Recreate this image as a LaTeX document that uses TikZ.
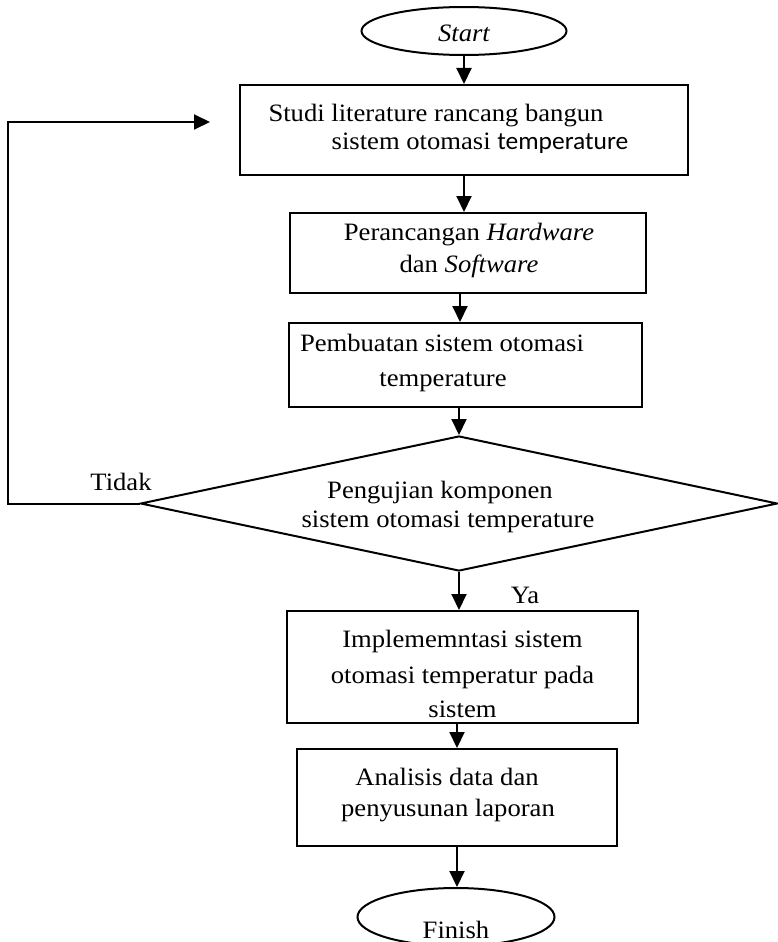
\documentclass[tikz,border=0pt]{standalone}
\usepackage{fontspec}
\setmainfont{Liberation Serif}[FakeStretch=1.065]
\newfontfamily\calfont{Carlito}[FakeStretch=1.02]
\usetikzlibrary{arrows.meta,shapes.geometric}
\begin{document}
\begin{tikzpicture}[x=1pt,y=-1pt,
  txt/.style={font=\fontsize{25}{30}\selectfont,inner sep=0pt,anchor=base},
  box/.style={draw,line width=2pt,rectangle,inner sep=0pt},
  term/.style={draw,line width=2pt,ellipse,inner sep=0pt},
  dec/.style={draw,line width=2pt,diamond,inner sep=0pt},
  arr/.style={line width=2pt,-{Triangle[length=16pt,width=15pt]}}]
\path[use as bounding box,fill=white] (0,0) rectangle (778,942);
\clip (0,0) rectangle (778,942);
% shapes
\node[term,minimum width=205pt,minimum height=48pt] (start) at (464,31) {};
\node[box,minimum width=448pt,minimum height=90pt] (studi) at (464,130) {};
\node[box,minimum width=356pt,minimum height=80pt] (per) at (468,253) {};
\node[box,minimum width=353pt,minimum height=84pt] (pem) at (465.5,365) {};
\node[dec,minimum width=637pt,minimum height=135pt] (uji) at (459,503.5) {};
\node[box,minimum width=351pt,minimum height=112pt] (impl) at (462.5,667) {};
\node[box,minimum width=320pt,minimum height=97pt] (ana) at (457,797.5) {};
\node[term,minimum width=197pt,minimum height=58pt] (fin) at (456,917) {};
% texts
\node[txt] (tstart) at (464,42) {\itshape Start};
\node[txt] (tstudiA) at (436,121) {Studi literature rancang bangun};
\node[txt] (tstudiB) at (480,149) {sistem otomasi {\calfont temperature}};
\node[txt] (tperA) at (469,240) {Perancangan \textit{Hardware}};
\node[txt] (tperB) at (469,272) {dan \textit{Software}};
\node[txt] (tpemA) at (442,351) {Pembuatan sistem otomasi};
\node[txt] (tpemB) at (443,386) {temperature};
\node[txt] (tujiA) at (440,498) {Pengujian komponen};
\node[txt] (tujiB) at (448,527) {sistem otomasi temperature};
\node[txt] (timplA) at (462.5,647) {Implememntasi sistem};
\node[txt] (timplB) at (462.5,683) {otomasi temperatur pada};
\node[txt] (timplC) at (462.5,717) {sistem};
\node[txt] (tanaA) at (447,785) {Analisis data dan};
\node[txt] (tanaB) at (448,816) {penyusunan laporan};
\node[txt] (tfin) at (456,938) {Finish};
\node[txt] (ttidak) at (121,490) {Tidak};
\node[txt] (tya) at (525,603) {Ya};
% connectors
\draw[arr] (start.south) -- (start.south |- studi.north);
\draw[arr] (studi.south) -- (studi.south |- per.north);
\draw[arr] ([xshift=-8pt]per.south) -- ([xshift=-8pt]per.south |- pem.north);
\draw[arr] (uji.north |- pem.south) -- (uji.north);
\draw[arr] (uji.south) -- (uji.south |- impl.north);
\draw[arr] (ana.north |- impl.south) -- (ana.north);
\draw[arr] (ana.south) -- (ana.south |- fin.north);
\coordinate (fbtop) at (8,122);
\coordinate (fbend) at (210,122);
\draw[arr] (uji.west) -| (fbtop) -- (fbend);
\end{tikzpicture}
\end{document}
